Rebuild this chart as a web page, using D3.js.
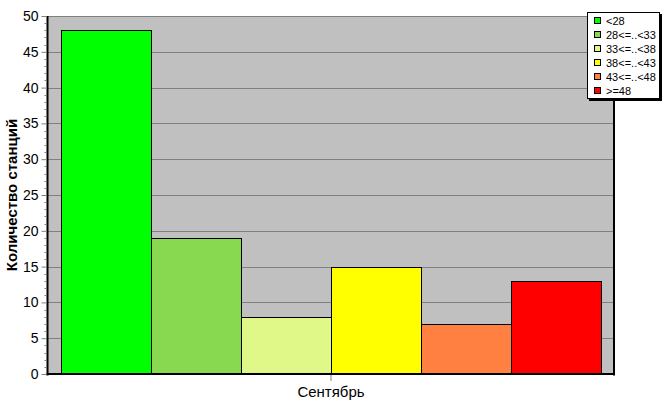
<!DOCTYPE html>
<html><head><meta charset="utf-8">
<script src="https://cdn.jsdelivr.net/npm/d3@7"></script>
<style>body{margin:0;background:#fff}svg{display:block;font-family:"Liberation Sans",Arial,sans-serif}</style>
</head><body><svg id="c" width="667" height="415"></svg>
<script>
const categories = ["Сентябрь"];
const seriesNames = ["<28", "28<=..<33", "33<=..<38", "38<=..<43", "43<=..<48", ">=48"];
const seriesValues = [48, 19, 8, 15, 7, 13];
const seriesColors = ["#00ff00", "#88d850", "#e0f888", "#ffff00", "#ff8040", "#ff0000"];
const yTicks = [0, 5, 10, 15, 20, 25, 30, 35, 40, 45, 50];
const yLabel = "Количество станций";

const svg = d3.select("#c");
const L = 48, R = 614, T = 16, B = 374;
const y = d3.scaleLinear().domain([0, 50]).range([B, T]);
const x0 = d3.scaleBand().domain(categories).range([L, R]).paddingInner(0).paddingOuter(13/540);
const x1 = d3.scaleBand().domain(seriesNames).range([0, x0.bandwidth()]).padding(0);

svg.append("rect").attr("x", L).attr("y", T).attr("width", R - L).attr("height", B - T).attr("fill", "#c0c0c0");
// grid
svg.append("g").selectAll("line").data(yTicks.filter(v => v > 0 && v < 50)).join("line")
  .attr("x1", L).attr("x2", R).attr("y1", d => Math.round(y(d)) + 0.5).attr("y2", d => Math.round(y(d)) + 0.5)
  .attr("stroke", "#808080").attr("stroke-width", 1);

// bars
const data = seriesNames.map((s, i) => ({ cat: categories[0], s, v: seriesValues[i], c: seriesColors[i] }));
svg.append("g").selectAll("rect").data(data).join("rect")
  .attr("x", d => x0(d.cat) + x1(d.s) + 0.5)
  .attr("y", d => Math.round(y(d.v)) + 0.5)
  .attr("width", x1.bandwidth())
  .attr("height", d => B - Math.round(y(d.v)))
  .attr("fill", d => d.c).attr("stroke", "#000").attr("stroke-width", 1);

// frame
svg.append("line").attr("x1", L).attr("x2", R).attr("y1", T + 0.5).attr("y2", T + 0.5).attr("stroke", "#808080");
svg.append("line").attr("x1", L - 0.5).attr("x2", L - 0.5).attr("y1", T).attr("y2", B + 1.5).attr("stroke", "#000").attr("stroke-width", 2);
svg.append("line").attr("x1", R).attr("x2", R).attr("y1", T).attr("y2", B + 1.5).attr("stroke", "#000").attr("stroke-width", 2);
svg.append("line").attr("x1", L - 1.5).attr("x2", R + 1).attr("y1", B).attr("y2", B).attr("stroke", "#000").attr("stroke-width", 2);

// y axis
const yAxis = d3.axisLeft(y).tickValues(yTicks).tickSize(5).tickPadding(3);
const gy = svg.append("g").attr("transform", `translate(${L - 1.5},0)`).call(yAxis);
gy.select(".domain").remove();
gy.selectAll(".tick line").attr("stroke", "#808080");
gy.selectAll(".tick text").attr("font-size", 14).attr("fill", "#000").attr("font-family", "Liberation Sans, Arial, sans-serif");
// minor ticks
const minor = d3.range(0, 51).filter(v => v % 5 !== 0);
svg.append("g").selectAll("line").data(minor).join("line")
  .attr("x1", L - 3.5).attr("x2", L - 1.5).attr("y1", d => Math.round(y(d)) + 0.5).attr("y2", d => Math.round(y(d)) + 0.5)
  .attr("stroke", "#808080");

// x axis
const xAxis = d3.axisBottom(x0).tickSize(6).tickPadding(5);
const gx = svg.append("g").attr("transform", `translate(0,${B + 1})`).call(xAxis);
gx.select(".domain").remove();
gx.selectAll(".tick line").attr("stroke", "#808080");
gx.selectAll(".tick text").attr("font-size", 15).attr("fill", "#000").attr("font-family", "Liberation Sans, Arial, sans-serif");

// y label
svg.append("text").attr("transform", `translate(17,${(T + B) / 2}) rotate(-90)`)
  .attr("text-anchor", "middle").attr("font-size", 15).attr("font-weight", "bold").text(yLabel);

// legend
const lg = svg.append("g");
lg.append("rect").attr("x", 589).attr("y", 14).attr("width", 73).attr("height", 87).attr("fill", "#000");
lg.append("rect").attr("x", 587.5).attr("y", 12.5).attr("width", 72).attr("height", 86).attr("fill", "#fff").attr("stroke", "#000");
const li = lg.selectAll("g.item").data(data).join("g").attr("class", "item")
  .attr("transform", (d, i) => `translate(594,${21 + i * 14})`);
li.append("rect").attr("x", 0.5).attr("y", -3.5).attr("width", 6).attr("height", 6).attr("fill", d => d.c).attr("stroke", "#000");
li.append("text").attr("x", 12).attr("y", 0).attr("dy", "0.35em").attr("font-size", 11).text(d => d.s);
</script></body></html>
